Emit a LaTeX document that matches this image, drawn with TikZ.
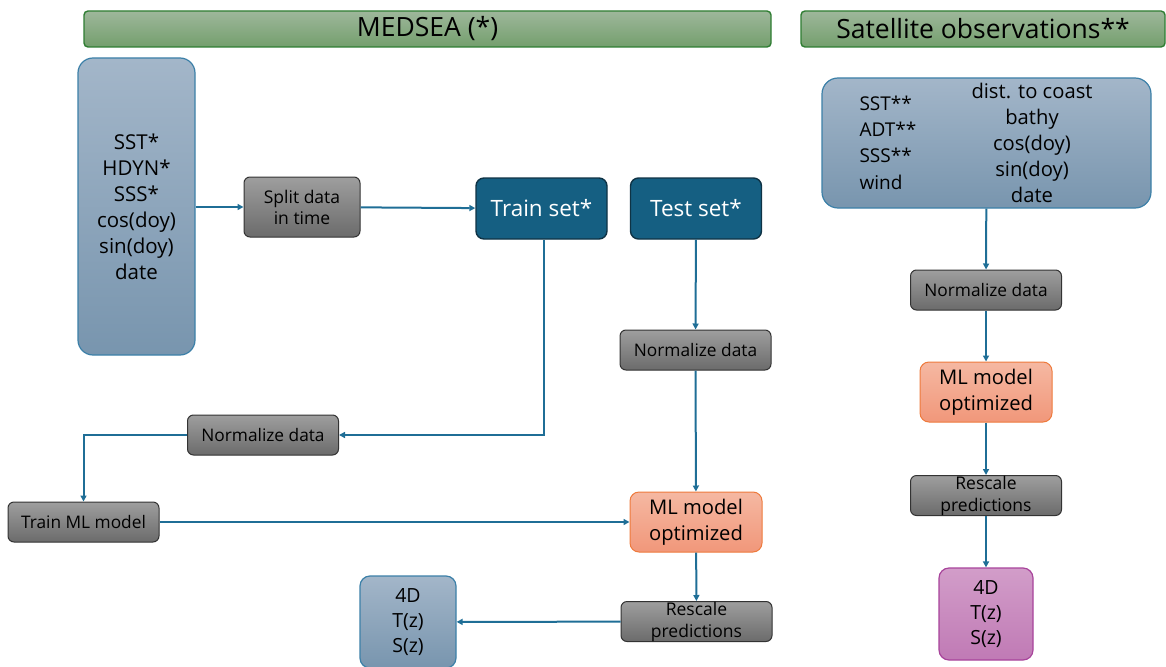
\documentclass[tikz,border=0pt]{standalone}
\usepackage{fontspec}
\setmainfont{Open Sans}
\usetikzlibrary{arrows.meta}
\definecolor{flowline}{HTML}{1F6E96}
\definecolor{hdrborder}{HTML}{2E7D32}
\definecolor{hdrtop}{HTML}{9EB79B}
\definecolor{hdrbot}{HTML}{749F6D}
\definecolor{intop}{HTML}{A3B6C9}
\definecolor{inbot}{HTML}{7895AE}
\definecolor{inborder}{HTML}{3C80A8}
\definecolor{settop}{HTML}{155F82}
\definecolor{setborder}{HTML}{0F3345}
\definecolor{mltop}{HTML}{F5B8A2}
\definecolor{mlbot}{HTML}{F1977A}
\definecolor{mlborder}{HTML}{EE7A3C}
\definecolor{outtop}{HTML}{D29DC9}
\definecolor{outbot}{HTML}{C07AB5}
\definecolor{outborder}{HTML}{A8449B}
\tikzset{
  header/.style={draw=hdrborder,line width=1.4pt,rounded corners=4pt,top color=hdrtop,bottom color=hdrbot,
    inner sep=0pt,font=\fontsize{26.5}{28}\selectfont},
  inbox/.style={draw=inborder,line width=1.2pt,top color=intop,bottom color=inbot,inner sep=0pt,align=center},
  greybox/.style={draw=black!80,line width=1pt,rounded corners=6pt,top color=black!38,bottom color=black!58,
    inner sep=0pt,align=center,minimum width=151pt,minimum height=40pt,font=\fontsize{17.3}{20}\selectfont},
  setbox/.style={draw=setborder,line width=1.4pt,rounded corners=8pt,fill=settop,text=white,
    inner sep=0pt,minimum width=131pt,minimum height=61pt,font=\fontsize{22.5}{24}\selectfont},
  mlbox/.style={draw=mlborder,line width=1pt,rounded corners=9pt,top color=mltop,bottom color=mlbot,
    inner sep=0pt,align=center,minimum width=132pt,minimum height=60pt,font=\fontsize{20.2}{26}\selectfont},
  flow/.style={draw=flowline,line width=2pt,-{Triangle[length=6pt,width=6pt]}}
}
\begin{document}
\begin{tikzpicture}[x=1pt,y=-1pt]
\useasboundingbox (0,0) rectangle (1166,666);
% headers
\node[header,minimum width=687pt,minimum height=36pt] (hmed) at (427.5,29) {MEDSEA (*)};
\node[header,minimum width=364pt,minimum height=36pt] (hsat) at (983,29) {Satellite observations**};
% medsea branch
\node[inbox,rounded corners=15pt,minimum width=117pt,minimum height=297pt,
  font=\fontsize{20.5}{26}\selectfont] (inmed) at (136.5,206.5)
  {SST*\\HDYN*\\SSS*\\cos(doy)\\sin(doy)\\date};
\node[greybox,minimum width=116pt,minimum height=60pt,font=\fontsize{17.5}{21}\selectfont] (split) at (302,207) {Split data\\in time};
\node[setbox] (train) at (541.5,208.5) {Train set*};
\node[setbox] (test) at (696,208.5) {Test set*};
\node[greybox] (normtr) at (263,435) {Normalize data};
\node[greybox] (trainml) at (83.5,522) {Train ML model};
\node[greybox] (normte) at (695.5,350) {Normalize data};
\node[mlbox] (mlmed) at (696,522) {ML model\\optimized};
\node[greybox,font=\fontsize{17.5}{22}\selectfont] (resmed) at (696.5,621.5) {Rescale\\predictions};
\node[inbox,rounded corners=10pt,minimum width=96pt,minimum height=92pt,
  font=\fontsize{19.5}{25}\selectfont] (outmed) at (408,622) {4D\\T(z)\\S(z)};
% satellite branch
\node[inbox,rounded corners=16pt,minimum width=329pt,minimum height=130pt] (insat) at (986.5,143) {};
\node[anchor=west,align=left,font=\fontsize{19}{26.3}\selectfont] (satleft) at (856,142.5)
  {SST**\\ADT**\\SSS**\\wind};
\node[align=center,font=\fontsize{20.2}{26}\selectfont] (satright) at (1032,143)
  {dist. to coast\\bathy\\cos(doy)\\sin(doy)\\date};
\node[greybox] (normsat) at (986,290) {Normalize data};
\node[mlbox] (mlsat) at (986,392) {ML model\\optimized};
\node[greybox,font=\fontsize{17.5}{22}\selectfont] (ressat) at (986,495.5) {Rescale\\predictions};
\node[draw=outborder,line width=1.2pt,rounded corners=10pt,top color=outtop,bottom color=outbot,
  inner sep=0pt,align=center,minimum width=94pt,minimum height=92pt,
  font=\fontsize{19.5}{25}\selectfont] (outsat) at (986,614) {4D\\T(z)\\S(z)};
% connectors
\draw[flow] (inmed.east |- split) -- (split);
\draw[flow] (split) -- (train);
\draw[flow] ([xshift=2pt]train.south) |- (normtr);
\draw[flow] (normtr.west) -| (trainml);
\draw[flow] (trainml) -- (mlmed);
\draw[flow] (test) -- (normte);
\draw[flow] (normte) -- (mlmed);
\draw[flow] (mlmed) -- (resmed);
\draw[flow] (resmed) -- (outmed);
\draw[flow] (insat) -- (normsat);
\draw[flow] (normsat) -- (mlsat);
\draw[flow] (mlsat) -- (ressat);
\draw[flow] (ressat) -- (outsat);
\end{tikzpicture}
\end{document}
